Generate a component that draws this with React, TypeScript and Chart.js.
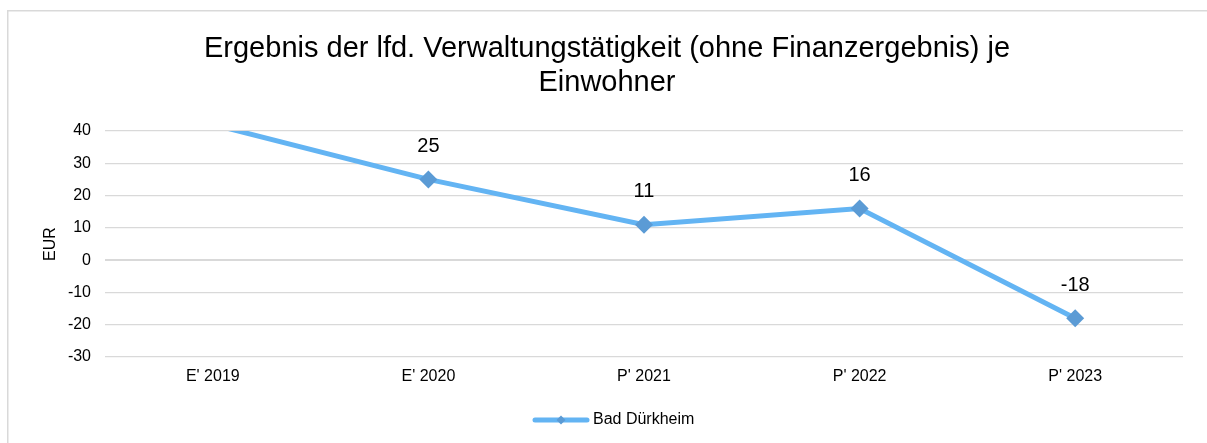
import { useEffect, useRef } from "react";
import { Chart, registerables } from "chart.js";

Chart.register(...registerables);

const categories = ["E' 2019", "E' 2020", "P' 2021", "P' 2022", "P' 2023"];
const values = [42, 25, 11, 16, -18];
const seriesName = "Bad Dürkheim";
const titleLines = ["Ergebnis der lfd. Verwaltungstätigkeit (ohne Finanzergebnis) je", "Einwohner"];
const yAxisTitle = "EUR";
const yMin = -30;
const yMax = 40;
const yStep = 10;

const FONT = "'Liberation Sans', Arial, sans-serif";
const LINE_COLOR = "#63B4F3";
const MARKER_COLOR = "#5B9BD5";
const GRID_COLOR = "#d9d9d9";

const decorPlugin = {
  id: "decor",
  beforeDraw(chart: any) {
    const ctx = chart.ctx;
    ctx.save();
    ctx.fillStyle = "#ffffff";
    ctx.fillRect(0, 0, chart.width, chart.height);
    ctx.strokeStyle = "#d9d9d9";
    ctx.lineWidth = 1.5;
    ctx.beginPath();
    ctx.moveTo(7.75, chart.height + 5);
    ctx.lineTo(7.75, 10.75);
    ctx.lineTo(chart.width + 5, 10.75);
    ctx.stroke();
    ctx.restore();
  },
  afterDraw(chart: any) {
    const ctx = chart.ctx;
    const area = chart.chartArea;
    ctx.save();
    // title
    ctx.fillStyle = "#000000";
    ctx.font = `29px ${FONT}`;
    ctx.textAlign = "center";
    ctx.textBaseline = "middle";
    titleLines.forEach((t, i) => ctx.fillText(t, 607, 49 + i * 34));
    // data labels
    const meta = chart.getDatasetMeta(0);
    ctx.font = `20px ${FONT}`;
    meta.data.forEach((pt: any, i: number) => {
      if (pt.y < area.top - 0.5 || pt.y > area.bottom + 0.5) return;
      ctx.fillText(String(values[i]), pt.x, pt.y - 33);
    });
    // legend
    const ly = 420;
    ctx.strokeStyle = LINE_COLOR;
    ctx.lineWidth = 5;
    ctx.lineCap = "round";
    ctx.beginPath();
    ctx.moveTo(535, ly);
    ctx.lineTo(587, ly);
    ctx.stroke();
    ctx.fillStyle = MARKER_COLOR;
    ctx.beginPath();
    const r = 4.5;
    ctx.moveTo(561 - r, ly);
    ctx.lineTo(561, ly - r);
    ctx.lineTo(561 + r, ly);
    ctx.lineTo(561, ly + r);
    ctx.closePath();
    ctx.fill();
    ctx.fillStyle = "#000000";
    ctx.font = `16px ${FONT}`;
    ctx.textAlign = "left";
    ctx.fillText(seriesName, 593, ly);
    ctx.restore();
  },
};

export default function App() {
  const ref = useRef<HTMLCanvasElement>(null);
  useEffect(() => {
    if (!ref.current) return;
    const chart = new Chart(ref.current, {
      type: "line",
      data: {
        labels: categories,
        datasets: [
          {
            label: seriesName,
            data: values,
            borderColor: LINE_COLOR,
            borderWidth: 5,
            backgroundColor: MARKER_COLOR,
            pointBackgroundColor: MARKER_COLOR,
            pointBorderColor: MARKER_COLOR,
            pointBorderWidth: 0,
            pointStyle: "rectRot",
            pointRadius: (c: any) => (c.raw > yMax || c.raw < yMin ? 0 : 9),
            tension: 0,
            clip: 0,
            fill: false,
          } as any,
        ],
      },
      options: {
        animation: false,
        responsive: false,
        devicePixelRatio: 1,
        layout: { padding: { top: 131, left: 0, right: 24, bottom: 46 } },
        plugins: {
          legend: { display: false },
          title: { display: false },
          tooltip: { enabled: false },
        },
        scales: {
          x: {
            offset: true,
            grid: { display: false, drawTicks: false, offset: true },
            border: { display: false },
            ticks: { color: "#000000", font: { family: FONT, size: 16 }, padding: 10, maxRotation: 0 },
            afterFit: (s: any) => {
              s.height = 40;
            },
          },
          y: {
            min: yMin,
            max: yMax,
            ticks: { stepSize: yStep, color: "#000000", font: { family: FONT, size: 16 }, padding: 14 },
            grid: {
              color: GRID_COLOR,
              lineWidth: (c: any) => (c.tick && c.tick.value === 0 ? 2 : 1.2),
              drawTicks: false,
            },
            border: { display: false },
            title: {
              display: true,
              text: yAxisTitle,
              color: "#000000",
              font: { family: FONT, size: 16 },
              padding: { top: 41, bottom: 0 },
            },
            afterFit: (s: any) => {
              s.width = 105;
            },
          },
        },
      },
      plugins: [decorPlugin],
    });
    return () => chart.destroy();
  }, []);
  return (
    <div style={{ position: "fixed", left: 0, top: 0, width: 1207, height: 443, overflow: "hidden", background: "#fff" }}>
      <canvas ref={ref} width={1207} height={443} style={{ display: "block", width: 1207, height: 443 }} />
    </div>
  );
}
